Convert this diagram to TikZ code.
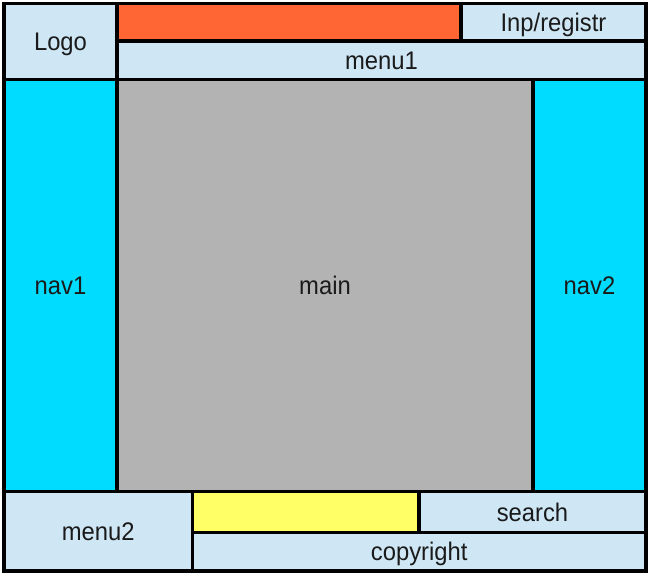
\documentclass[tikz,border=0pt]{standalone}
\usepackage{fontspec}
\setmainfont{Liberation Sans}
\definecolor{lblue}{HTML}{CFE7F5}
\definecolor{orng}{HTML}{FF6633}
\definecolor{cyn}{HTML}{00DCFF}
\definecolor{gry}{HTML}{B3B3B3}
\definecolor{yel}{HTML}{FFFF66}
\definecolor{txt}{HTML}{1A1A1A}
\newcommand\lcell[7]{%
  \node[cellbox, fill=#5, minimum width={(#3)-(#1)}, minimum height={(#4)-(#2)}]
    (#6) at ({((#1)+(#3))/2},{((#2)+(#4))/2}) {\scalebox{1}[1.07]{#7}};}
\begin{document}
\begin{tikzpicture}[x=1pt,y=-1pt,
  cellbox/.style={draw=black, line width=3.5pt, rectangle, inner sep=0pt, outer sep=0pt,
    text=txt, text height=20pt, text depth=2pt, font=\fontsize{23.8}{28}\selectfont}]
\useasboundingbox (0,0) rectangle (650,574);
\lcell{4}{3.5}{117}{79.5}{lblue}{logo}{Logo}
\lcell{117}{3.5}{461}{41}{orng}{banner}{}
\lcell{461}{3.5}{646}{41}{lblue}{login}{Inp/registr}
\lcell{117}{41}{646}{79.5}{lblue}{menuone}{menu1}
\lcell{4}{79.5}{117}{491.5}{cyn}{navone}{nav1}
\lcell{117}{79.5}{533}{491.5}{gry}{main}{main}
\lcell{533}{79.5}{646}{491.5}{cyn}{navtwo}{nav2}
\lcell{4}{491.5}{192.5}{571}{lblue}{menutwo}{menu2}
\lcell{192.5}{491.5}{419}{532.5}{yel}{ad}{}
\lcell{419}{491.5}{646}{532.5}{lblue}{search}{search}
\lcell{192.5}{532.5}{646}{571}{lblue}{copyright}{copyright}
\end{tikzpicture}
\end{document}
